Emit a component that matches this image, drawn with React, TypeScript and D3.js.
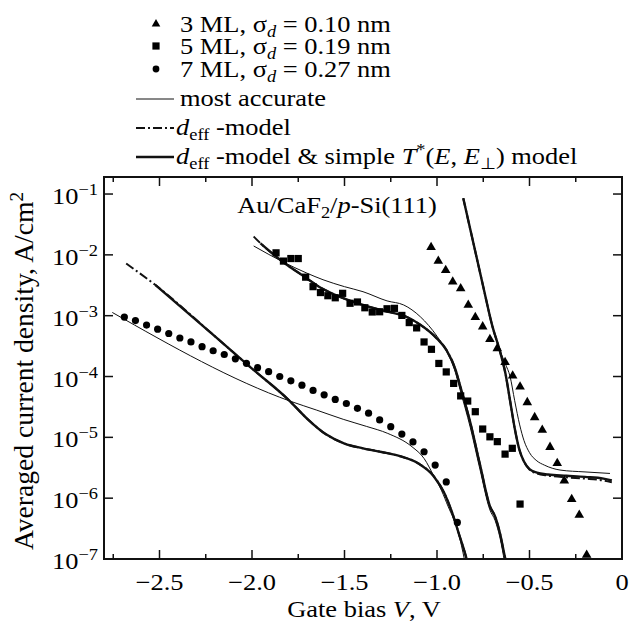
import React, { useEffect, useRef } from 'react';
import * as d3 from 'd3';

// ==== data (gate bias V in volts, current density in A/cm^2)

// 3 ML, sigma_d = 0.10 nm (triangles)
const ml3Bias = [-1.032, -0.993, -0.953, -0.915, -0.872, -0.831, -0.793, -0.753, -0.714, -0.674, -0.632,
    -0.591, -0.551, -0.512, -0.472, -0.431, -0.389, -0.35, -0.312, -0.272, -0.231, -0.191];
const ml3Current = [1.33e-2, 7.9e-3, 5.6e-3, 3.6e-3, 2.8e-3, 1.5e-3, 9.4e-4, 6.6e-4, 4.1e-4, 2.9e-4, 1.71e-4,
    1.03e-4, 6.8e-5, 3.76e-5, 2.13e-5, 1.32e-5, 6.9e-6, 3.74e-6, 1.94e-6, 9.6e-7, 5.3e-7, 1.16e-7];

// 5 ML, sigma_d = 0.19 nm (squares)
const ml5Bias = [-1.87, -1.83, -1.79, -1.75, -1.71, -1.67, -1.63, -1.59, -1.55, -1.51, -1.47, -1.43, -1.39,
    -1.35, -1.31, -1.27, -1.23, -1.19, -1.15, -1.11, -1.07, -1.03, -0.99, -0.95, -0.91, -0.872, -0.834,
    -0.793, -0.753, -0.714, -0.674, -0.632, -0.593, -0.551];
const ml5Current = [1.08e-2, 7.9e-3, 8.7e-3, 8.7e-3, 4.3e-3, 3.0e-3, 2.4e-3, 2.13e-3, 1.97e-3, 2.33e-3, 1.6e-3,
    1.68e-3, 1.35e-3, 1.15e-3, 1.16e-3, 1.3e-3, 1.32e-3, 1.01e-3, 7.7e-4, 6.3e-4, 3.7e-4, 2.8e-4, 1.64e-4,
    1.19e-4, 7.7e-5, 4.8e-5, 3.95e-5, 2.64e-5, 1.37e-5, 1.02e-5, 8.5e-6, 5.3e-6, 6.6e-6, 8.0e-7];

// 7 ML, sigma_d = 0.27 nm (circles)
const ml7Bias = [-2.69, -2.63, -2.57, -2.51, -2.45, -2.39, -2.33, -2.27, -2.21, -2.15, -2.09, -2.03, -1.97,
    -1.91, -1.85, -1.79, -1.73, -1.67, -1.61, -1.55, -1.49, -1.43, -1.37, -1.31, -1.25, -1.19, -1.13, -1.07,
    -1.01, -0.95, -0.89];
const ml7Current = [9.5e-4, 8.3e-4, 7.0e-4, 6.0e-4, 5.1e-4, 4.3e-4, 3.7e-4, 3.1e-4, 2.65e-4, 2.3e-4, 1.95e-4,
    1.65e-4, 1.4e-4, 1.2e-4, 1.0e-4, 8.5e-5, 7.2e-5, 5.9e-5, 5.0e-5, 4.2e-5, 3.6e-5, 3.0e-5, 2.5e-5, 1.93e-5,
    1.5e-5, 1.13e-5, 8.4e-6, 5.8e-6, 3.5e-6, 1.85e-6, 4.0e-7];

// model curves, [V, J]
const accurate3: [number, number][] = [[-0.858, 8.5e-2], [-0.8, 1.41e-2], [-0.75, 3.0e-3], [-0.7, 6.6e-4],
    [-0.66, 2.7e-4], [-0.63, 1.6e-4], [-0.605, 1.0e-4], [-0.58, 4.0e-5], [-0.553, 1.6e-5], [-0.53, 8.9e-6],
    [-0.5, 5.6e-6], [-0.46, 4.1e-6], [-0.42, 3.5e-6], [-0.335, 2.9e-6], [-0.2, 2.7e-6], [-0.065, 2.55e-6]];
const simpleT3: [number, number][] = [[-0.858, 8.5e-2], [-0.8, 1.41e-2], [-0.75, 3.0e-3], [-0.7, 6.6e-4],
    [-0.66, 2.63e-4], [-0.63, 1.12e-4], [-0.605, 4.0e-5], [-0.58, 1.41e-5], [-0.555, 6.3e-6], [-0.53, 4.0e-6],
    [-0.5, 3.0e-6], [-0.46, 2.63e-6], [-0.4, 2.45e-6], [-0.3, 2.34e-6], [-0.2, 2.24e-6], [-0.1, 2.1e-6],
    [-0.055, 1.95e-6]];
const deff3: [number, number][] = [[-0.858, 8.5e-2], [-0.8, 1.41e-2], [-0.75, 3.0e-3], [-0.7, 6.6e-4],
    [-0.66, 2.63e-4], [-0.63, 1.12e-4], [-0.605, 4.0e-5], [-0.58, 1.41e-5], [-0.555, 6.3e-6], [-0.53, 4.0e-6],
    [-0.5, 2.95e-6], [-0.46, 2.55e-6], [-0.4, 2.35e-6], [-0.3, 2.2e-6], [-0.2, 2.1e-6], [-0.1, 1.95e-6],
    [-0.055, 1.82e-6]];

const accurate5: [number, number][] = [[-1.991, 1.4e-2], [-1.834, 7.7e-3], [-1.703, 5.0e-3], [-1.616, 3.9e-3],
    [-1.5, 3.0e-3], [-1.4, 2.48e-3], [-1.27, 1.75e-3], [-1.18, 1.5e-3], [-1.09, 9.6e-4], [-1.0, 4.6e-4],
    [-0.948, 2.6e-4], [-0.9, 1.15e-4], [-0.876, 6.2e-5], [-0.82, 1.45e-5], [-0.768, 3.0e-6], [-0.714, 6.4e-7],
    [-0.686, 4.3e-7], [-0.659, 2.2e-7], [-0.635, 9.0e-8]];
const simpleT5: [number, number][] = [[-1.954, 1.55e-2], [-1.834, 7.7e-3], [-1.703, 4.1e-3], [-1.638, 3.0e-3],
    [-1.55, 2.2e-3], [-1.4, 1.5e-3], [-1.27, 1.17e-3], [-1.18, 1.0e-3], [-1.09, 7.1e-4], [-1.0, 4.2e-4],
    [-0.948, 2.7e-4], [-0.9, 1.3e-4], [-0.876, 7.2e-5], [-0.82, 1.75e-5], [-0.768, 3.6e-6], [-0.714, 7.4e-7],
    [-0.686, 5.0e-7], [-0.659, 2.6e-7], [-0.632, 1.05e-7], [-0.62, 7.5e-8]];
const deff5Start: [number, number][] = [[-1.991, 2.0e-2]];

const accurate7: [number, number][] = [[-2.755, 1.13e-3], [-1.79, 3.9e-5], [-1.65, 2.8e-5], [-1.507, 1.98e-5],
    [-1.38, 1.51e-5], [-1.266, 1.16e-5], [-1.135, 7.0e-6], [-1.07, 4.5e-6], [-1.015, 2.25e-6], [-0.975, 1.32e-6],
    [-0.939, 7.2e-7], [-0.91, 4.5e-7], [-0.884, 2.64e-7], [-0.851, 9.6e-8]];
const simpleT7: [number, number][] = [[-2.522, 3.19e-3], [-2.2, 4.57e-4], [-2.0, 1.35e-4], [-1.8, 4.07e-5],
    [-1.7, 2.0e-5], [-1.6, 1.12e-5], [-1.5, 7.9e-6], [-1.4, 6.6e-6], [-1.3, 5.75e-6], [-1.2, 4.9e-6],
    [-1.1, 3.7e-6], [-1.02, 2.34e-6], [-0.96, 1.2e-6], [-0.92, 6.0e-7], [-0.88, 2.5e-7], [-0.84, 1.0e-7],
    [-0.83, 7.6e-8]];
const deff7Start: [number, number][] = [[-2.68, 7.2e-3]];

const xMajorTicks = [-2.5, -2.0, -1.5, -1.0, -0.5, 0];
const xTickLabels = ['\u22122.5', '\u22122.0', '\u22121.5', '\u22121.0', '\u22120.5', '0'];
const xMinorTicks = [-2.75, -2.25, -1.75, -1.25, -0.75, -0.25];
const yTickExponents = [-1, -2, -3, -4, -5, -6, -7];

// ====

const FONT = '"Liberation Serif", "Times New Roman", serif';
const SIZE = 23;

type Seg = { t: string; i?: boolean; sub?: boolean; sup?: boolean };

function richText(parent: any, segs: Seg[], transform: string, anchor = 'start') {
    const text = parent
        .append('text')
        .attr('transform', transform)
        .attr('text-anchor', anchor)
        .attr('font-family', FONT)
        .attr('font-size', SIZE)
        .attr('fill', '#000')
        .style('white-space', 'pre');
    let shift = 0;
    segs.forEach((s) => {
        const target = s.sub ? 5 : s.sup ? -9 : 0;
        text
            .append('tspan')
            .attr('dy', target - shift)
            .attr('font-size', s.sub || s.sup ? 16 : SIZE)
            .attr('font-style', s.i ? 'italic' : 'normal')
            .text(s.t);
        shift = target;
    });
    return text;
}

const stretch = (x: number, y: number) => `translate(${x},${y}) scale(1.15,1)`;

function drawChart(node: SVGSVGElement) {
    const svg = d3.select(node);
    svg.selectAll('*').remove();

    const left = 104, right = 622, top = 177, bottom = 559;
    const x = d3.scaleLinear().domain([-2.8, 0]).range([left, right]);
    const y = d3.scaleLog().domain([1e-7, Math.pow(10, -0.72)]).range([bottom, top]);

    svg.append('defs')
        .append('clipPath')
        .attr('id', 'plot-clip')
        .append('rect')
        .attr('x', left)
        .attr('y', top)
        .attr('width', right - left)
        .attr('height', bottom - top);

    const plot = svg.append('g').attr('clip-path', 'url(#plot-clip)');

    const line = d3.line<[number, number]>()
        .x((d) => x(d[0]))
        .y((d) => y(d[1]))
        .curve(d3.curveMonotoneX);

    const drawCurve = (data: [number, number][], width: number, dash?: string) => {
        const p = plot.append('path')
            .attr('d', line(data))
            .attr('fill', 'none')
            .attr('stroke', '#111')
            .attr('stroke-width', width)
            .attr('stroke-linejoin', 'round');
        if (dash) p.attr('stroke-dasharray', dash);
    };

    // most accurate (thin), d_eff (dash-dot), d_eff & simple T* (thick)
    [accurate3, accurate5, accurate7].forEach((c) => drawCurve(c, 1));
    drawCurve(deff3, 2, '9,3,2,3');
    drawCurve(deff5Start.concat(simpleT5), 2, '9,3,2,3');
    drawCurve(deff7Start.concat(simpleT7), 2, '9,3,2,3');
    [simpleT3, simpleT5, simpleT7].forEach((c) => drawCurve(c, 2.4));

    // measured points
    const tri = d3.symbol().type(d3.symbolTriangle).size(40);
    const sq = d3.symbol().type(d3.symbolSquare).size(52);

    plot.selectAll('.tri')
        .data(ml3Bias.map((v, i) => [v, ml3Current[i]]))
        .enter()
        .append('path')
        .attr('d', tri)
        .attr('transform', (d) => `translate(${x(d[0])},${y(d[1])})`)
        .attr('fill', '#000');

    plot.selectAll('.sq')
        .data(ml5Bias.map((v, i) => [v, ml5Current[i]]))
        .enter()
        .append('path')
        .attr('d', sq)
        .attr('transform', (d) => `translate(${x(d[0])},${y(d[1])})`)
        .attr('fill', '#000');

    plot.selectAll('.dot')
        .data(ml7Bias.map((v, i) => [v, ml7Current[i]]))
        .enter()
        .append('circle')
        .attr('cx', (d) => x(d[0]))
        .attr('cy', (d) => y(d[1]))
        .attr('r', 3.6)
        .attr('fill', '#000');

    // frame and ticks
    const axes = svg.append('g').attr('stroke', '#111');
    axes.append('rect')
        .attr('x', left)
        .attr('y', top)
        .attr('width', right - left)
        .attr('height', bottom - top)
        .attr('fill', 'none')
        .attr('stroke-width', 2);

    const xTick = (v: number, len: number) => {
        axes.append('line').attr('x1', x(v)).attr('x2', x(v)).attr('y1', bottom).attr('y2', bottom - len).attr('stroke-width', 1.5);
        axes.append('line').attr('x1', x(v)).attr('x2', x(v)).attr('y1', top).attr('y2', top + len).attr('stroke-width', 1.5);
    };
    xMajorTicks.slice(0, -1).forEach((v) => xTick(v, 9));
    xMinorTicks.forEach((v) => xTick(v, 5));

    yTickExponents.slice(0, -1).forEach((e) => {
        const yy = y(Math.pow(10, e));
        axes.append('line').attr('x1', left).attr('x2', left + 9).attr('y1', yy).attr('y2', yy).attr('stroke-width', 1.5);
        axes.append('line').attr('x1', right).attr('x2', right - 9).attr('y1', yy).attr('y2', yy).attr('stroke-width', 1.5);
    });

    // tick labels
    xMajorTicks.forEach((v, i) => {
        richText(svg, [{ t: xTickLabels[i] }], stretch(x(v), 590), 'middle');
    });
    yTickExponents.forEach((e) => {
        const yy = y(Math.pow(10, e));
        richText(svg, [{ t: '10' }, { t: '\u2212' + Math.abs(e), sup: true }], stretch(98, yy + 10), 'end');
    });

    // axis titles
    richText(svg, [{ t: 'Gate bias ' }, { t: 'V', i: true }, { t: ', V' }], stretch(364, 617), 'middle');
    richText(svg, [{ t: 'Averaged current density, A/cm' }, { t: '2', sup: true }],
        'translate(33,371) rotate(-90) scale(1.2,1.15)', 'middle');

    richText(svg, [{ t: 'Au/CaF' }, { t: '2', sub: true }, { t: '/' }, { t: 'p', i: true }, { t: '-Si(111)' }],
        stretch(337, 213), 'middle');

    // legend
    const leg = svg.append('g');
    leg.append('path').attr('d', d3.symbol().type(d3.symbolTriangle).size(32)).attr('transform', 'translate(156,24)').attr('fill', '#000');
    leg.append('path').attr('d', sq).attr('transform', 'translate(156,46)').attr('fill', '#000');
    leg.append('circle').attr('cx', 156).attr('cy', 69).attr('r', 3.4).attr('fill', '#000');

    const sigmaRow = (label: string, val: string, yy: number) =>
        richText(leg, [{ t: label + ', \u03c3' }, { t: 'd', i: true, sub: true }, { t: ' = ' + val + ' nm' }], stretch(180, yy));
    sigmaRow('3 ML', '0.10', 32);
    sigmaRow('5 ML', '0.19', 54);
    sigmaRow('7 ML', '0.27', 77);

    leg.append('line').attr('x1', 136).attr('x2', 174).attr('y1', 99).attr('y2', 99).attr('stroke', '#111').attr('stroke-width', 1);
    richText(leg, [{ t: 'most accurate' }], stretch(180, 106));

    leg.append('line').attr('x1', 136).attr('x2', 174).attr('y1', 128).attr('y2', 128).attr('stroke', '#111')
        .attr('stroke-width', 2).attr('stroke-dasharray', '9,3,2,3');
    richText(leg, [{ t: 'd', i: true }, { t: 'eff', sub: true }, { t: ' -model' }], stretch(176, 135));

    leg.append('line').attr('x1', 136).attr('x2', 174).attr('y1', 157).attr('y2', 157).attr('stroke', '#111').attr('stroke-width', 2.4);
    richText(leg, [
        { t: 'd', i: true }, { t: 'eff', sub: true }, { t: ' -model & simple ' }, { t: 'T', i: true }, { t: '*', sup: true },
        { t: '(' }, { t: 'E', i: true }, { t: ', ' }, { t: 'E', i: true }, { t: '\u22a5', sub: true }, { t: ') model' },
    ], stretch(176, 164));
}

// ====

export default function App() {
    const ref = useRef<SVGSVGElement>(null);

    useEffect(() => {
        if (ref.current) drawChart(ref.current);
    }, []);

    return (
        <svg
            ref={ref}
            width={630}
            height={628}
            style={{ position: 'absolute', left: 0, top: 0, background: '#fff' }}
        />
    );
}
